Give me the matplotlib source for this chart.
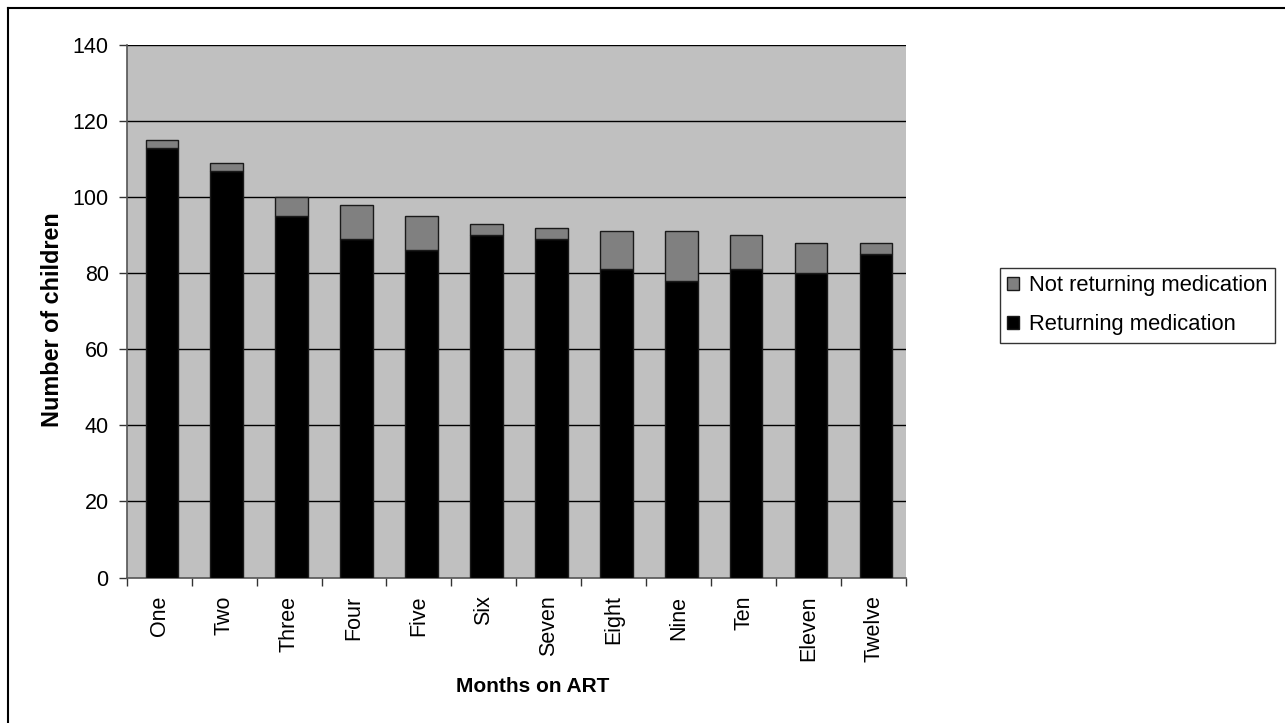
import matplotlib
matplotlib.use("Agg")
import matplotlib.pyplot as plt
from matplotlib.lines import Line2D
from matplotlib.patches import Patch

months = ["One", "Two", "Three", "Four", "Five", "Six",
          "Seven", "Eight", "Nine", "Ten", "Eleven", "Twelve"]
returning = [113, 107, 95, 89, 86, 90, 89, 81, 78, 81, 80, 85]
not_returning = [2, 2, 5, 9, 9, 3, 3, 10, 13, 9, 8, 3]
y_ticks = [0, 20, 40, 60, 80, 100, 120, 140]

plt.rcParams["font.family"] = ["Liberation Sans", "DejaVu Sans"]

W, H = 1285, 723
fig = plt.figure(figsize=(W / 100, H / 100), dpi=100)
left, right, top, bottom = 126.7, 906.0, 45.0, 577.5
ax = fig.add_axes([left / W, 1 - bottom / H, (right - left) / W, (bottom - top) / H])

ax.set_facecolor("#C0C0C0")
x = [i + 0.04 for i in range(len(months))]
edge = "#1a1a1a"
ax.bar(x, returning, width=0.5, color="black", edgecolor=edge, linewidth=1.0,
       zorder=3, label="Returning medication")
ax.bar(x, not_returning, width=0.5, bottom=returning, color="#808080",
       edgecolor=edge, linewidth=1.0, zorder=3, label="Not returning medication")

ax.set_xlim(-0.5, len(months) - 0.5)
ax.set_ylim(0, 140)
ax.set_yticks(y_ticks)
ax.set_yticklabels([str(v) for v in y_ticks], fontsize=15.5)
for v in y_ticks[1:]:
    ax.axhline(v, color="black", linewidth=1.0, zorder=1)

ax.set_xticks(range(len(months)))
ax.set_xticklabels(months, rotation=90, fontsize=15.5, va="top")
ax.set_xticks([i - 0.5 for i in range(len(months) + 1)], minor=True)
ax.tick_params(axis="x", which="major", length=0, pad=13)
ax.tick_params(axis="x", which="minor", length=6, width=1, color="#333333", direction="out")
ax.tick_params(axis="y", length=6, width=1, color="#333333", direction="out", pad=7)

for s in ["top", "right"]:
    ax.spines[s].set_visible(False)
for s in ["left", "bottom"]:
    ax.spines[s].set_color("#555555")
    ax.spines[s].set_linewidth(1.2)

fig.text(533 / W, 1 - 687 / H, "Months on ART", ha="center", va="center",
         fontsize=15, fontweight="bold")
fig.text(53 / W, 1 - 320 / H, "Number of children", ha="center", va="center",
         rotation=90, fontsize=16.8, fontweight="bold")

handles = [Patch(facecolor="#808080", edgecolor=edge, linewidth=1.0),
           Patch(facecolor="black", edgecolor=edge, linewidth=1.0)]
leg = fig.legend(handles, ["Not returning medication", "Returning medication"],
                 loc="upper left", bbox_to_anchor=(999.5 / W, 1 - 267.5 / H),
                 fontsize=15.8, frameon=True, fancybox=False,
                 handlelength=0.55, handleheight=0.55, handletextpad=0.45,
                 borderpad=0.35, labelspacing=0.82, borderaxespad=0)
leg.get_frame().set_edgecolor("black")
leg.get_frame().set_linewidth(1.0)

fig.add_artist(Line2D([8 / W, 8 / W], [0, 1 - 8 / H], color="black",
                      linewidth=1.5, transform=fig.transFigure))
fig.add_artist(Line2D([8 / W, 1], [1 - 8 / H, 1 - 8 / H], color="black",
                      linewidth=1.5, transform=fig.transFigure))

fig.savefig("out.png", dpi=100)
